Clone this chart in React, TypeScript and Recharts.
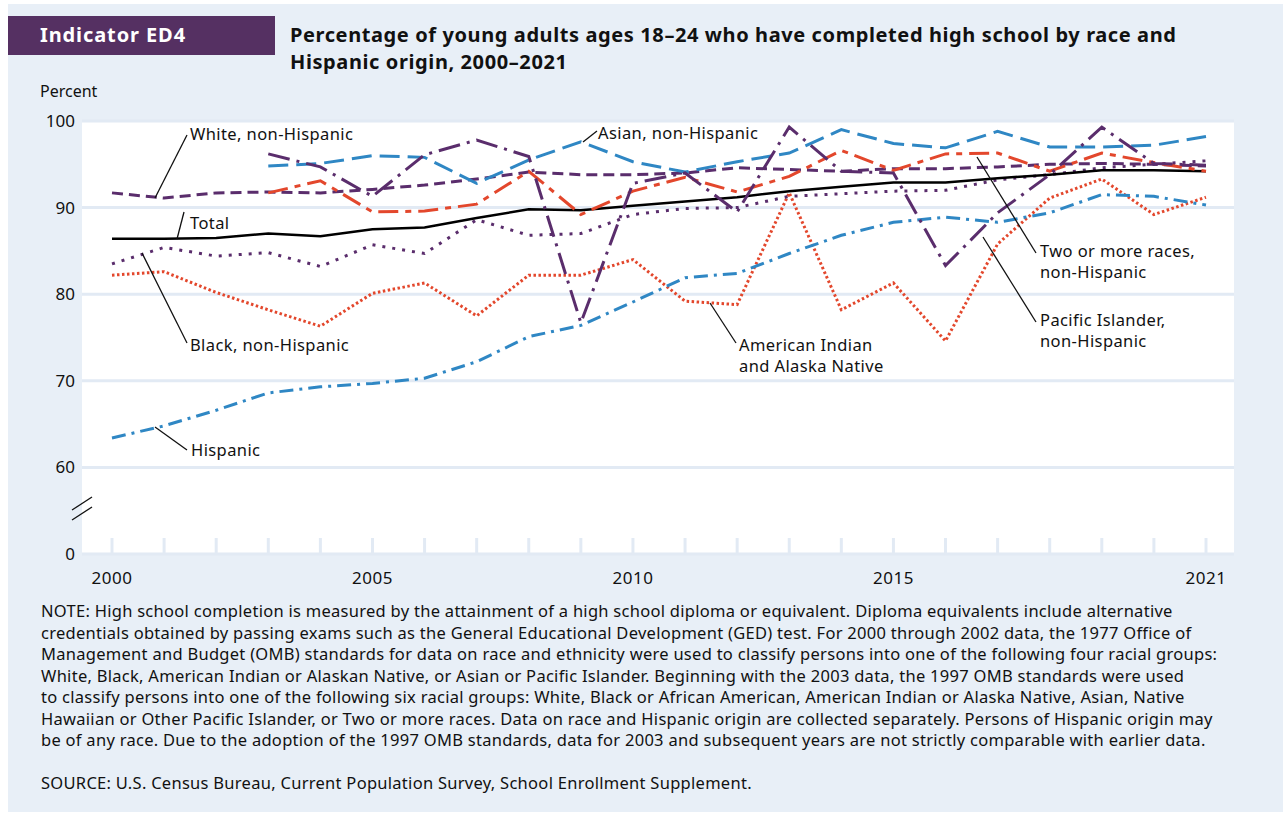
import { LineChart, Line, XAxis, YAxis, CartesianGrid } from "recharts"

const years = [
  2000, 2001, 2002, 2003, 2004, 2005, 2006, 2007, 2008, 2009, 2010,
  2011, 2012, 2013, 2014, 2015, 2016, 2017, 2018, 2019, 2020, 2021,
]
const total = [86.4, 86.4, 86.5, 87.0, 86.7, 87.5, 87.7, 88.8, 89.8, 89.7, 90.2, 90.7, 91.2, 91.9, 92.4, 92.9, 92.9, 93.4, 93.8, 94.3, 94.3, 94.2]
const white = [91.7, 91.1, 91.7, 91.8, 91.7, 92.1, 92.6, 93.3, 94.1, 93.8, 93.8, 94.0, 94.6, 94.4, 94.2, 94.5, 94.5, 94.7, 95.0, 95.1, 95.0, 94.8]
const black = [83.5, 85.4, 84.4, 84.8, 83.2, 85.7, 84.7, 88.6, 86.8, 87.0, 89.2, 89.9, 90.0, 91.3, 91.6, 91.9, 92.0, 93.2, 93.8, 94.6, 95.0, 95.4]
const hispanic = [63.4, 64.8, 66.6, 68.6, 69.3, 69.7, 70.3, 72.2, 75.1, 76.4, 79.1, 81.9, 82.4, 84.7, 86.8, 88.3, 88.9, 88.3, 89.4, 91.5, 91.3, 90.3]
const asian = [null, null, null, 94.8, 95.1, 96.0, 95.8, 92.8, 95.5, 97.6, 95.3, 94.1, 95.3, 96.3, 99.0, 97.4, 96.9, 98.8, 97.0, 97.0, 97.2, 98.2]
const pacific = [null, null, null, 96.2, 94.7, 91.3, 96.1, 97.8, 95.9, 76.7, 92.8, 94.0, 89.5, 99.3, 94.2, 94.0, 83.3, 89.4, 93.8, 99.3, 95.1, 94.9]
const aian = [82.2, 82.6, 80.2, 78.2, 76.3, 80.1, 81.3, 77.5, 82.2, 82.2, 84.0, 79.2, 78.8, 91.7, 78.2, 81.3, 74.6, 85.8, 91.1, 93.3, 89.2, 91.2]
const twoOrMore = [null, null, null, 91.7, 93.1, 89.5, 89.6, 90.4, 94.2, 89.2, 91.9, 93.5, 91.8, 93.6, 96.6, 94.3, 96.2, 96.3, 94.2, 96.3, 95.2, 94.2]

const xLabelYears = [2000, 2005, 2010, 2015, 2021]
const yTickValues = [0, 60, 70, 80, 90, 100]

const noteLines = [
  "NOTE: High school completion is measured by the attainment of a high school diploma or equivalent. Diploma equivalents include alternative",
  "credentials obtained by passing exams such as the General Educational Development (GED) test. For 2000 through 2002 data, the 1977 Office of",
  "Management and Budget (OMB) standards for data on race and ethnicity were used to classify persons into one of the following four racial groups:",
  "White, Black, American Indian or Alaskan Native, or Asian or Pacific Islander. Beginning with the 2003 data, the 1997 OMB standards were used",
  "to classify persons into one of the following six racial groups: White, Black or African American, American Indian or Alaska Native, Asian, Native",
  "Hawaiian or Other Pacific Islander, or Two or more races. Data on race and Hispanic origin are collected separately. Persons of Hispanic origin may",
  "be of any race. Due to the adoption of the 1997 OMB standards, data for 2003 and subsequent years are not strictly comparable with earlier data.",
]
const sourceLine = "SOURCE: U.S. Census Bureau, Current Population Survey, School Enrollment Supplement."

// axis is broken below 60, so 0 sits one step under 60
const BREAK = 50
const toAxis = (v: number) => (v < 60 ? BREAK : v)

const data = years.map((year, i) => ({
  year,
  total: total[i],
  white: white[i],
  black: black[i],
  hispanic: hispanic[i],
  asian: asian[i],
  pacific: pacific[i],
  aian: aian[i],
  twoOrMore: twoOrMore[i],
}))

const PURPLE = "#5a2d6c"
const BLUE = "#2f87c4"
const RED = "#e3472c"
const BG = "#e8eff7"
const GRID = "#e2eaf4"
const FONT = "'Noto Sans', sans-serif"

const XTick = (props: any) => {
  const { x, y, payload } = props
  const showLabel = xLabelYears.includes(payload.value)
  return (
    <g>
      <line x1={x} x2={x} y1={y - 16} y2={y} stroke={GRID} strokeWidth={3} />
      {showLabel && (
        <text x={x} y={y + 23} textAnchor="middle" dominantBaseline="central" fontSize={17} letterSpacing={0.5} fill="#111" fontFamily={FONT}>
          {payload.value}
        </text>
      )}
    </g>
  )
}

const labelStyle: any = {
  position: "absolute",
  fontFamily: FONT,
  fontSize: 16.5,
  letterSpacing: 0.4,
  color: "#111",
  lineHeight: "21px",
  whiteSpace: "nowrap",
}

export default function App() {
  return (
    <div style={{ position: "absolute", left: 0, top: 0, width: 1283, height: 815, background: "#fff", fontFamily: FONT }}>
      <div style={{ position: "absolute", left: 8, top: 4, width: 1275, height: 808, background: BG }} />
      <div style={{ position: "absolute", left: 8, top: 16, width: 267, height: 39, background: "#553062" }} />
      <div style={{ position: "absolute", left: 40, top: 21, color: "#fff", fontSize: 20, fontWeight: 700, letterSpacing: 0.9, lineHeight: "28px" }}>
        Indicator ED4
      </div>
      <div style={{ position: "absolute", left: 290, top: 21, color: "#111", fontSize: 20, fontWeight: 700, letterSpacing: 0.6, lineHeight: "27px", whiteSpace: "nowrap" }}>
        Percentage of young adults ages 18–24 who have completed high school by race and
        <br />
        Hispanic origin, 2000–2021
      </div>
      <div style={{ ...labelStyle, fontSize: 16, letterSpacing: 0, left: 40, top: 81 }}>Percent</div>

      <div style={{ position: "absolute", left: 0, top: 0 }}>
        <LineChart width={1283} height={600} data={data} margin={{ top: 121, right: 49, bottom: 6, left: 42 }}>
          <CartesianGrid vertical={false} fill="#fff" stroke={GRID} strokeWidth={3} />
          <XAxis
            dataKey="year"
            type="number"
            domain={[2000, 2021]}
            ticks={years}
            interval={0}
            padding={{ left: 30, right: 28 }}
            axisLine={false}
            tickLine={false}
            tickSize={0}
            tickMargin={0}
            height={40}
            tick={<XTick />}
          />
          <YAxis
            type="number"
            domain={[BREAK, 100]}
            ticks={yTickValues.map(toAxis)}
            tickFormatter={(v: number) => String(yTickValues[yTickValues.map(toAxis).indexOf(v)])}
            axisLine={false}
            tickLine={false}
            tickSize={0}
            tickMargin={7}
            width={40}
            tick={{ fontSize: 17, fill: "#111", fontFamily: FONT }}
          />
          <Line dataKey="aian" stroke={RED} strokeWidth={3} strokeDasharray="2.5 2.5" dot={false} isAnimationActive={false} />
          <Line dataKey="hispanic" stroke={BLUE} strokeWidth={3} strokeDasharray="14 6 3 6" dot={false} isAnimationActive={false} />
          <Line dataKey="black" stroke={PURPLE} strokeWidth={3} strokeDasharray="3 7" dot={false} isAnimationActive={false} />
          <Line dataKey="total" stroke="#000" strokeWidth={2.5} dot={false} isAnimationActive={false} />
          <Line dataKey="white" stroke={PURPLE} strokeWidth={3} strokeDasharray="11 6" dot={false} isAnimationActive={false} />
          <Line dataKey="twoOrMore" stroke={RED} strokeWidth={3} strokeDasharray="20 7 6 7" dot={false} isAnimationActive={false} />
          <Line dataKey="asian" stroke={BLUE} strokeWidth={3} strokeDasharray="20 8" dot={false} isAnimationActive={false} />
          <Line dataKey="pacific" stroke={PURPLE} strokeWidth={3} strokeDasharray="22 7 3 7" dot={false} isAnimationActive={false} />
        </LineChart>
      </div>

      {/* axis break and leader lines */}
      <svg width={1283} height={600} style={{ position: "absolute", left: 0, top: 0 }}>
        <line x1={72} y1={510} x2={92} y2={497} stroke="#111" strokeWidth={1.3} />
        <line x1={72} y1={520} x2={92} y2={507} stroke="#111" strokeWidth={1.3} />
        <g stroke="#111" strokeWidth={1.3}>
          <line x1={187} y1={135} x2={155} y2={198} />
          <line x1={184} y1={212} x2={177} y2={239} />
          <line x1={187} y1={343} x2={142} y2={253} />
          <line x1={187} y1={450} x2={155} y2={427} />
          <line x1={597} y1={131} x2={583} y2={142} />
          <line x1={736} y1={343} x2={710} y2={303} />
          <line x1={1036} y1={253} x2={977} y2={157} />
          <line x1={1036} y1={322} x2={983} y2={237} />
        </g>
      </svg>

      <div style={{ ...labelStyle, left: 190, top: 123 }}>White, non-Hispanic</div>
      <div style={{ ...labelStyle, left: 190, top: 212 }}>Total</div>
      <div style={{ ...labelStyle, left: 190, top: 334 }}>Black, non-Hispanic</div>
      <div style={{ ...labelStyle, left: 191, top: 439 }}>Hispanic</div>
      <div style={{ ...labelStyle, left: 598, top: 122 }}>Asian, non-Hispanic</div>
      <div style={{ ...labelStyle, left: 739, top: 334 }}>
        American Indian
        <br />
        and Alaska Native
      </div>
      <div style={{ ...labelStyle, left: 1040, top: 240 }}>
        Two or more races,
        <br />
        non-Hispanic
      </div>
      <div style={{ ...labelStyle, left: 1040, top: 309 }}>
        Pacific Islander,
        <br />
        non-Hispanic
      </div>

      <div style={{ position: "absolute", left: 41, top: 600, fontSize: 16.5, letterSpacing: 0.28, lineHeight: "21.5px", color: "#111", whiteSpace: "nowrap" }}>
        {noteLines.map((l, i) => (
          <div key={i}>{l}</div>
        ))}
        <div style={{ marginTop: 21.5 }}>{sourceLine}</div>
      </div>
    </div>
  )
}
